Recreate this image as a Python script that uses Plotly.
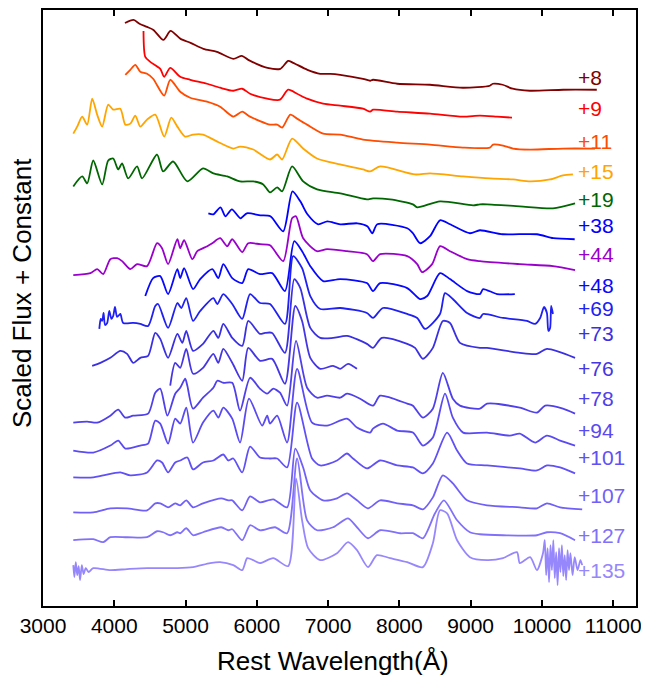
import plotly.graph_objects as go

# epochs (days) and colours
epochs = ["+8", "+9", "+11", "+15", "+19", "+38", "+44", "+48", "+69",
          "+73", "+76", "+78", "+94", "+101", "+107", "+127", "+135"]
colors = ["#800000", "#ff0000", "#ff4c00", "#ffa500", "#006600", "#0000ff",
          "#9900cc", "#0808ff", "#2020f2", "#3a30e2", "#4536e2", "#5040ea",
          "#5a4af2", "#6050f5", "#7060f8", "#8070fa", "#9787fc"]
label_y = [530, 499, 466, 436, 408, 382, 353, 322, 299, 273, 238, 208,
           176, 149, 111, 71, 36]
tick_vals = [3000, 4000, 5000, 6000, 7000, 8000, 9000, 10000, 11000]

# rest wavelength (A) and scaled flux + constant
wl_8 = [4150, 4270, 4360, 4460, 4550, 4690, 4790, 4930, 5070, 5250, 5440, 5670,
        5790, 5880, 6150, 6330, 6440, 6510, 6710, 6890, 7030, 7170, 7490, 7590,
        7630, 7970, 8430, 8890, 9270, 9310, 9450, 9590, 9830, 10300, 10770]
fl_8 = [585, 588, 584, 581, 578, 568, 577, 569, 565, 559, 556, 549, 552, 548,
        540, 539, 547, 545, 538, 534, 534, 533, 529, 527, 528, 524, 523, 520,
        522, 524, 523, 519, 517, 518, 518]

wl_9 = [4410, 4435, 4505, 4645, 4700, 4785, 4925, 5065, 5300, 5485, 5670, 5795,
        5905, 6145, 6325, 6440, 6565, 6705, 6930, 7170, 7490, 7590, 7630, 7970,
        8430, 8890, 9130, 9370, 9580]
fl_9 = [577, 551, 546, 539, 531, 540, 531, 528, 524, 520, 517, 519, 514, 509,
        508, 518, 514, 509, 504, 502, 499, 496, 498, 496, 494, 491, 492, 491, 490]

wl_11 = [4155, 4225, 4295, 4365, 4460, 4545, 4700, 4785, 4925, 5065, 5300, 5485,
         5670, 5795, 5905, 6185, 6285, 6355, 6470, 6565, 6705, 6930, 7170, 7490,
         7970, 8430, 8890, 9270, 9315, 9455, 9595, 9835, 10295, 10745]
fl_11 = [533, 538, 543, 536, 534, 529, 512, 528, 516, 510, 506, 501, 491, 496,
         491, 483, 483, 480, 493, 489, 483, 474, 473, 468, 465, 463, 460, 460,
         463, 462, 459, 458, 459, 459]

wl_15 = [3425, 3480, 3550, 3620, 3690, 3760, 3830, 3915, 3985, 4085, 4155, 4225,
         4295, 4365, 4460, 4575, 4700, 4800, 4885, 4995, 5105, 5245, 5445, 5670,
         5765, 5950, 6185, 6285, 6355, 6495, 6650, 6845, 7170, 7490, 7590, 7730,
         8220, 8430, 8895, 9270, 9595, 9835, 10115, 10295, 10435]
fl_15 = [474, 481, 491, 483, 509, 493, 481, 503, 498, 499, 483, 484, 492, 481,
         488, 493, 471, 490, 481, 471, 473, 473, 466, 459, 461, 458, 448, 453,
         448, 469, 459, 449, 443, 438, 436, 441, 433, 434, 431, 429, 428, 426,
         428, 432, 433]

wl_19 = [3425, 3550, 3620, 3705, 3830, 3915, 3985, 4055, 4110, 4195, 4320, 4390,
         4600, 4685, 4825, 5025, 5245, 5390, 5585, 5765, 5950, 6090, 6185, 6285,
         6355, 6495, 6650, 6845, 7170, 7545, 7630, 7870, 8190, 8250, 8570, 9035,
         9130, 9230, 9690, 10155, 10465]
fl_19 = [421, 431, 424, 447, 423, 447, 449, 438, 444, 429, 441, 429, 453, 436,
         446, 426, 439, 434, 431, 426, 426, 423, 415, 420, 416, 441, 426, 418,
         414, 408, 409, 408, 403, 400, 406, 402, 403, 403, 401, 399, 404]

wl_38 = [5320, 5390, 5490, 5560, 5650, 5770, 5860, 6050, 6190, 6370, 6500, 6610,
         6710, 6860, 6990, 7170, 7410, 7550, 7620, 7690, 8110, 8190, 8290, 8430,
         8570, 8710, 8990, 9130, 9450, 9930, 10160, 10460]
fl_38 = [394, 393, 400, 391, 398, 389, 394, 392, 391, 376, 416, 406, 393, 383,
         386, 383, 384, 381, 374, 383, 379, 374, 364, 371, 387, 383, 374, 377,
         373, 373, 369, 368]

wl_44 = [3425, 3665, 3760, 3845, 3945, 4040, 4110, 4225, 4320, 4460, 4600, 4670,
         4755, 4885, 4925, 4980, 5095, 5165, 5305, 5375, 5485, 5585, 5655, 5795,
         5880, 6045, 6185, 6370, 6495, 6550, 6650, 6845, 6985, 7265, 7545, 7630,
         7730, 8110, 8250, 8320, 8460, 8570, 8710, 8950, 9130, 9690, 10155, 10465]
fl_44 = [332, 334, 338, 333, 348, 349, 346, 338, 343, 341, 364, 359, 343, 368,
         359, 367, 348, 356, 361, 364, 369, 361, 368, 355, 364, 363, 362, 346,
         389, 391, 369, 356, 358, 356, 353, 346, 353, 351, 343, 335, 343, 361,
         356, 348, 346, 343, 341, 337]

wl_48 = [4435, 4545, 4645, 4755, 4885, 4925, 4980, 5105, 5205, 5375, 5460, 5530,
         5655, 5795, 5880, 6045, 6215, 6395, 6525, 6635, 6750, 6930, 7170, 7545,
         7630, 7730, 8110, 8290, 8390, 8570, 8710, 8950, 9130, 9175, 9370, 9620]
fl_48 = [311, 329, 331, 313, 338, 329, 339, 318, 328, 338, 329, 343, 329, 324,
         338, 333, 334, 316, 366, 356, 341, 326, 328, 324, 316, 324, 319, 308,
         311, 334, 328, 316, 313, 318, 313, 313]

wl_69 = [3790, 3810, 3830, 3850, 3870, 3900, 3930, 3960, 3985, 4010, 4040, 4085,
         4125, 4265, 4365, 4475, 4575, 4615, 4755, 4885, 4940, 5010, 5105, 5205,
         5390, 5445, 5530, 5655, 5795, 5905, 6045, 6185, 6395, 6510, 6635, 6750,
         6890, 7170, 7545, 7630, 7770, 8110, 8250, 8360, 8570, 8640, 8750, 8950,
         9130, 9175, 9455, 9790, 9905, 9975, 10030, 10070, 10090, 10115, 10130,
         10155]
fl_69 = [278, 288, 286, 294, 282, 284, 296, 288, 291, 300, 290, 293, 284, 284,
         283, 281, 301, 303, 279, 304, 299, 309, 286, 296, 309, 303, 313, 303,
         288, 313, 304, 303, 283, 351, 339, 311, 298, 299, 294, 289, 299, 293,
         289, 278, 293, 314, 308, 294, 289, 293, 289, 286, 283, 289, 300, 294,
         276, 279, 301, 293]

wl_73 = [3690, 3805, 3945, 4085, 4180, 4265, 4365, 4475, 4575, 4645, 4755, 4885,
         4955, 5010, 5105, 5245, 5390, 5460, 5530, 5655, 5795, 5880, 6045, 6115,
         6215, 6395, 6525, 6610, 6750, 6890, 7070, 7265, 7545, 7630, 7755, 8110,
         8220, 8330, 8470, 8610, 8710, 8850, 9130, 9230, 9690, 9930, 10070, 10465]
fl_73 = [241, 244, 249, 256, 253, 244, 249, 251, 274, 268, 249, 273, 264, 276,
         256, 263, 276, 269, 283, 269, 261, 286, 273, 274, 274, 254, 328, 319,
         279, 269, 269, 271, 263, 259, 269, 263, 259, 248, 259, 286, 284, 264,
         259, 259, 254, 253, 258, 249]

wl_76 = [4785, 4855, 4925, 5010, 5105, 5245, 5390, 5460, 5530, 5655, 5795, 5880,
         6045, 6215, 6395, 6540, 6635, 6750, 6890, 7070, 7170, 7280, 7405]
fl_76 = [221, 244, 239, 258, 233, 239, 253, 244, 258, 244, 226, 259, 246, 248,
         223, 301, 286, 249, 238, 241, 238, 243, 238]

wl_78 = [3425, 3620, 3760, 3945, 4055, 4155, 4265, 4475, 4575, 4645, 4745, 4855,
         4925, 4995, 5025, 5105, 5245, 5390, 5445, 5530, 5655, 5765, 5905, 6045,
         6145, 6230, 6325, 6425, 6550, 6705, 6845, 6985, 7170, 7265, 7450, 7630,
         7730, 8110, 8190, 8330, 8470, 8610, 8750, 8850, 9130, 9230, 9690, 9930,
         10045, 10295, 10465]
fl_78 = [184, 185, 184, 191, 197, 189, 191, 193, 214, 218, 191, 213, 219, 228,
         221, 198, 209, 219, 226, 224, 224, 196, 229, 218, 213, 218, 214, 201,
         266, 219, 209, 211, 209, 213, 208, 201, 211, 203, 201, 189, 198, 234,
         208, 201, 198, 203, 199, 194, 201, 198, 193]

wl_94 = [3425, 3705, 3945, 4055, 4155, 4365, 4475, 4575, 4645, 4755, 4855, 4925,
         5010, 5105, 5245, 5390, 5460, 5530, 5655, 5765, 5890, 6075, 6145, 6185,
         6285, 6425, 6565, 6775, 6985, 7265, 7405, 7590, 7630, 7770, 7970, 8190,
         8330, 8470, 8640, 8750, 8895, 9230, 9550, 9690, 9905, 10070, 10255, 10465]
fl_94 = [156, 154, 161, 166, 158, 161, 163, 186, 183, 163, 188, 183, 199, 164,
         184, 196, 189, 199, 188, 164, 208, 181, 191, 183, 191, 164, 238, 184,
         181, 188, 179, 174, 178, 183, 176, 174, 161, 169, 213, 189, 174, 174,
         171, 173, 164, 171, 166, 161]

wl_101 = [3425, 3705, 3845, 4085, 4225, 4460, 4600, 4670, 4755, 4855, 4925, 5025,
          5105, 5245, 5390, 5530, 5600, 5670, 5795, 5905, 6045, 6185, 6285, 6425,
          6565, 6775, 6890, 7125, 7265, 7350, 7545, 7730, 7970, 8190, 8330, 8470,
          8670, 8810, 8950, 9230, 9690, 9930, 10070, 10255, 10465]
fl_101 = [129, 129, 131, 134, 131, 134, 146, 144, 134, 144, 146, 149, 137, 144,
          146, 152, 146, 148, 134, 160, 149, 148, 148, 139, 204, 148, 141, 146,
          153, 148, 138, 146, 141, 139, 133, 143, 174, 156, 143, 141, 138, 136,
          141, 139, 133]

wl_107 = [3425, 3705, 3945, 4180, 4460, 4575, 4645, 4755, 4855, 4925, 5010, 5105,
          5245, 5500, 5600, 5655, 5795, 5905, 6045, 6230, 6425, 6540, 6650, 6750,
          6930, 7125, 7265, 7405, 7560, 7730, 7970, 8190, 8330, 8470, 8610, 8750,
          8950, 9230, 9690, 9930, 10070, 10255, 10565]
fl_107 = [94, 94, 98, 98, 96, 103, 103, 99, 103, 101, 106, 99, 103, 108, 106,
          106, 96, 110, 104, 107, 99, 158, 139, 116, 106, 108, 113, 106, 98, 106,
          103, 101, 97, 109, 131, 123, 106, 101, 99, 98, 103, 99, 97]

wl_127 = [3425, 3705, 3845, 3945, 4180, 4460, 4600, 4685, 4785, 4885, 4925, 5010,
          5105, 5245, 5500, 5600, 5655, 5795, 5905, 6045, 6255, 6425, 6565, 6705,
          6845, 7070, 7280, 7405, 7560, 7730, 8010, 8190, 8330, 8500, 8625, 8810,
          8990, 9130, 9455, 9930, 10070, 10255, 10465]
fl_127 = [66, 67, 64, 69, 69, 69, 75, 74, 71, 74, 73, 78, 71, 74, 79, 76, 77,
          66, 81, 76, 79, 73, 148, 86, 76, 79, 88, 79, 68, 76, 73, 73, 68, 93,
          106, 86, 74, 72, 71, 71, 74, 73, 66]

wl_135 = [3425, 3440, 3460, 3480, 3500, 3520, 3545, 3570, 3600, 3640, 3705, 3945,
          4180, 4460, 4645, 4885, 5105, 5345, 5485, 5670, 5795, 5865, 5950, 6045,
          6230, 6440, 6550, 6635, 6720, 6890, 7125, 7280, 7405, 7560, 7685, 7870,
          8110, 8330, 8470, 8570, 8670, 8810, 8990, 9230, 9455, 9650, 9690, 9835,
          9930, 10015, 10040, 10060, 10080, 10100, 10120, 10140, 10160, 10180,
          10200, 10220, 10240, 10260, 10280, 10300, 10320, 10340, 10360, 10380,
          10400, 10430, 10460, 10500, 10540, 10565]
fl_135 = [41, 29, 44, 31, 40, 26, 41, 32, 38, 34, 38, 36, 37, 38, 38, 38, 39, 43,
          44, 41, 36, 48, 46, 43, 48, 40, 128, 86, 58, 46, 53, 64, 56, 39, 51, 48,
          44, 39, 63, 96, 93, 66, 49, 46, 48, 54, 43, 49, 36, 53, 66, 31, 58, 24,
          61, 36, 66, 28, 54, 21, 58, 34, 61, 30, 51, 26, 56, 36, 53, 31, 49, 36,
          46, 41]

wls = [wl_8, wl_9, wl_11, wl_15, wl_19, wl_38, wl_44, wl_48, wl_69, wl_73,
       wl_76, wl_78, wl_94, wl_101, wl_107, wl_127, wl_135]
fls = [fl_8, fl_9, fl_11, fl_15, fl_19, fl_38, fl_44, fl_48, fl_69, fl_73,
       fl_76, fl_78, fl_94, fl_101, fl_107, fl_127, fl_135]

fig = go.Figure()
for wl, fl, c in zip(wls, fls, colors):
    fig.add_trace(go.Scatter(x=wl, y=fl, mode="lines",
                             line=dict(color=c, width=1.8, shape="spline", smoothing=0.7),
                             hoverinfo="skip"))

for lab, yy, c in zip(epochs, label_y, colors):
    fig.add_annotation(x=10480, y=yy, xref="x", yref="y", text=lab, showarrow=False,
                       xanchor="left", yanchor="middle", font=dict(size=21, color=c))

fig.add_annotation(x=0.489, y=-0.092, xref="paper", yref="paper",
                   text="Rest Wavelength(Å)", showarrow=False,
                   xanchor="center", yanchor="middle", font=dict(size=26, color="black"))
fig.add_annotation(x=-0.0354, y=0.525, xref="paper", yref="paper",
                   text="Scaled Flux + Constant", showarrow=False, textangle=-90,
                   xanchor="center", yanchor="middle", font=dict(size=26, color="black"))

fig.update_xaxes(range=[3000, 11320], tickvals=tick_vals,
                 ticktext=[str(v) for v in tick_vals],
                 ticks="inside", ticklen=6, tickwidth=1.5, tickcolor="black",
                 showline=True, linewidth=1.5, linecolor="black", mirror="ticks",
                 showgrid=False, zeroline=False, tickfont=dict(size=21, color="black"))
fig.update_yaxes(range=[0, 598], showticklabels=False, ticks="",
                 showline=True, linewidth=1.5, linecolor="black", mirror=True,
                 showgrid=False, zeroline=False)

# the page body adds an 8 px offset, so the figure is drawn 8 px smaller
fig.update_layout(width=641, height=667, margin=dict(l=35, r=13, t=0, b=69),
                  plot_bgcolor="white", paper_bgcolor="white", showlegend=False,
                  font=dict(family="Arial, Liberation Sans, sans-serif", color="black"))

fig.write_html("out.html")
